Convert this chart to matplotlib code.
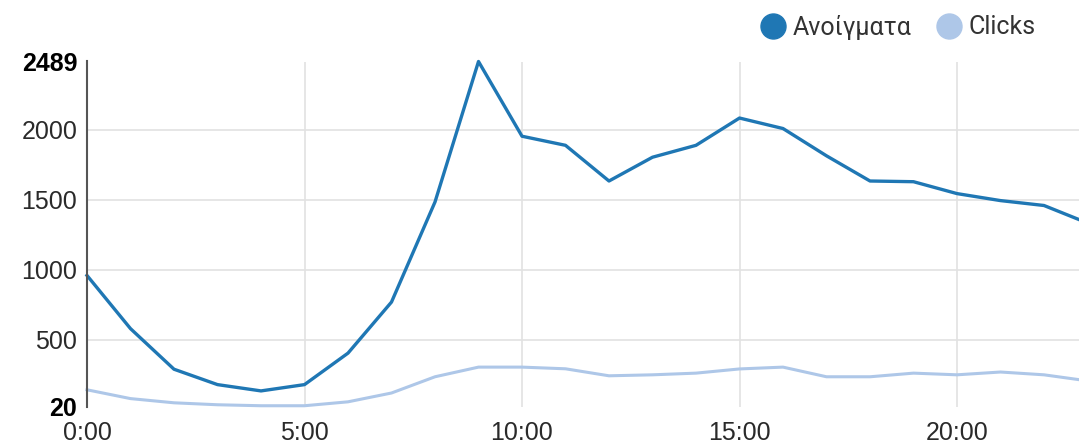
import matplotlib.pyplot as plt
from matplotlib.lines import Line2D

# Ώρες της ημέρας
hours = list(range(24))
hour_labels = ['0:00', '5:00', '10:00', '15:00', '20:00']
hour_ticks = [0, 5, 10, 15, 20]

# Ανοίγματα ανά ώρα
opens = [960, 580, 290, 180, 135, 180, 405, 770, 1485, 2489, 1955, 1890, 1635,
         1805, 1890, 2085, 2010, 1815, 1635, 1630, 1545, 1495, 1460, 1335]

# Clicks ανά ώρα
clicks = [143, 80, 50, 36, 29, 29, 57, 120, 236, 305, 305, 293, 243,
          250, 262, 292, 305, 236, 236, 262, 250, 270, 250, 207]

y_min, y_max = 20, 2489
y_ticks = [20, 500, 1000, 1500, 2000, 2489]

c_open = '#1f77b4'
c_click = '#aec7e8'

W, H = 1079, 446
fig = plt.figure(figsize=(W / 100, H / 100), dpi=100)
# ο άξονας x συνεχίζει λίγο έξω από την εικόνα (23:00 στο δεξί όριο)
ax = fig.add_axes([87 / W, (H - 407) / H, 1000.5 / W, (407 - 61.5) / H])

ax.plot(hours, clicks, color=c_click, lw=2.2, solid_joinstyle='round', clip_on=False)
ax.plot(hours, opens, color=c_open, lw=2.4, solid_joinstyle='round', clip_on=False)

ax.set_xlim(0, 23)
ax.set_ylim(y_min, y_max)

ax.set_xticks(hour_ticks)
ax.set_xticklabels(hour_labels)
ax.set_yticks(y_ticks)
ax.set_yticklabels([str(v) for v in y_ticks])

for lbl in ax.get_xticklabels() + ax.get_yticklabels():
    lbl.set_family('Liberation Sans')
    lbl.set_fontsize(18)
    lbl.set_color('#2a2a2a')
for lbl in ax.get_yticklabels():
    if lbl.get_text() in ('20', '2489'):
        lbl.set_fontweight('bold')
        lbl.set_color('#000000')

ax.tick_params(axis='both', length=0)
ax.tick_params(axis='y', pad=7)
ax.tick_params(axis='x', pad=10)

# πλέγμα
for v in [500, 1000, 1500, 2000]:
    ax.axhline(v, color='#e2e2e2', lw=1.2, zorder=0)
for h in [5, 10, 15, 20]:
    ax.axvline(h, color='#e2e2e2', lw=1.2, zorder=0)

for s in ['top', 'right', 'bottom']:
    ax.spines[s].set_visible(False)
ax.spines['left'].set_color('#555555')
ax.spines['left'].set_linewidth(1.5)

# υπόμνημα
handles = [Line2D([], [], ls='none', marker='o', ms=18, color=c_open),
           Line2D([], [], ls='none', marker='o', ms=18, color=c_click)]
fig.legend(handles, ['Ανοίγματα', 'Clicks'], loc='center right',
           bbox_to_anchor=(1036 / W, (H - 27) / H), ncol=2, frameon=False,
           prop={'family': 'Roboto', 'size': 18}, handletextpad=0.3,
           columnspacing=1.0, handlelength=1.0, borderaxespad=0, borderpad=0,
           labelcolor='#333333')

fig.savefig('out.png', dpi=100)
